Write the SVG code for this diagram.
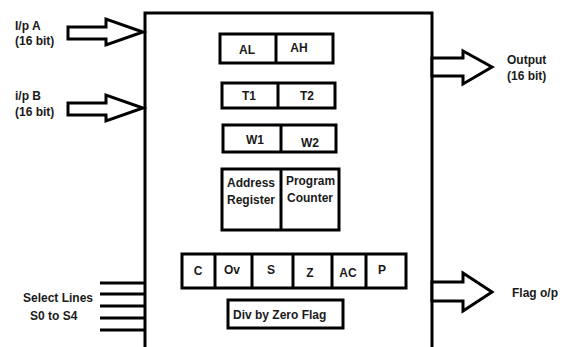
<svg xmlns="http://www.w3.org/2000/svg" width="566" height="347" viewBox="0 0 566 347">
<style>
text{font-family:"Liberation Sans",Arial,sans-serif;font-weight:bold;font-size:12px;fill:#1a1a1a}
.c{text-anchor:middle}
.box{fill:#fff;stroke:#000;stroke-width:3}
.ln{stroke:#000;stroke-width:3;fill:none}
.arr{fill:#fff;stroke:#000;stroke-width:3;stroke-linejoin:miter}
</style>
<rect width="566" height="347" fill="#fff"/>
<g id="alu">
<rect class="box" x="145" y="13" width="287" height="350"/>
</g>
<g id="reg-a">
<rect class="box" x="220" y="34" width="113" height="29"/>
<line class="ln" x1="276" y1="34" x2="276" y2="63"/>
<text class="c" x="247" y="54">AL</text>
<text class="c" x="299" y="52">AH</text>
</g>
<g id="reg-t">
<rect class="box" x="222" y="83" width="113" height="25"/>
<line class="ln" x1="278" y1="83" x2="278" y2="108"/>
<text class="c" x="249" y="100">T1</text>
<text class="c" x="307" y="100">T2</text>
</g>
<g id="reg-w">
<rect class="box" x="223" y="125" width="113" height="27"/>
<line class="ln" x1="281" y1="125" x2="281" y2="152"/>
<text class="c" x="255" y="144">W1</text>
<text class="c" x="310" y="147">W2</text>
</g>
<g id="reg-ap">
<rect class="box" x="222" y="169" width="117" height="61"/>
<line class="ln" x1="281" y1="169" x2="281" y2="230"/>
<text x="227" y="187">Address</text>
<text x="227" y="204">Register</text>
<text x="286" y="185" textLength="49" lengthAdjust="spacingAndGlyphs">Program</text>
<text x="287" y="202">Counter</text>
</g>
<g id="flags">
<rect class="box" x="182" y="254" width="224" height="34"/>
<line class="ln" x1="215" y1="254" x2="215" y2="288"/>
<line class="ln" x1="252" y1="254" x2="252" y2="288"/>
<line class="ln" x1="293" y1="254" x2="293" y2="288"/>
<line class="ln" x1="332" y1="254" x2="332" y2="288"/>
<line class="ln" x1="366" y1="254" x2="366" y2="288"/>
<text class="c" x="198" y="275">C</text>
<text class="c" x="232" y="274">Ov</text>
<text class="c" x="271" y="274">S</text>
<text class="c" x="310" y="277">Z</text>
<text class="c" x="348" y="277">AC</text>
<text class="c" x="382" y="274">P</text>
</g>
<g id="div-zero">
<rect class="box" x="228" y="300" width="115" height="28"/>
<text x="233" y="319">Div by Zero Flag</text>
</g>
<g id="connectors">
<polygon class="arr" points="68,27 106,27 106,19 143,32 106,45 106,39 68,39"/>
<polygon class="arr" points="68,103 106,103 106,95 143,108 106,121 106,115 68,115"/>
<polygon class="arr" points="432,58 463,58 463,51 492,67 463,84 463,76 432,76"/>
<polygon class="arr" points="432,282 463,282 463,273 492,292 463,311 463,301 432,301"/>
<line class="ln" x1="100" y1="283" x2="145" y2="283"/>
<line class="ln" x1="100" y1="294" x2="145" y2="294"/>
<line class="ln" x1="100" y1="306" x2="145" y2="306"/>
<line class="ln" x1="100" y1="318" x2="145" y2="318"/>
<line class="ln" x1="100" y1="330" x2="145" y2="330"/>
</g>
<g id="labels">
<text x="15" y="30">I/p A</text>
<text x="15" y="45">(16 bit)</text>
<text x="15" y="100">i/p B</text>
<text x="15" y="116">(16 bit)</text>
<text x="507" y="64">Output</text>
<text x="507" y="80">(16 bit)</text>
<text x="512" y="297">Flag o/p</text>
<text x="23" y="302">Select Lines</text>
<text x="30" y="320">S0 to S4</text>
</g>
</svg>
